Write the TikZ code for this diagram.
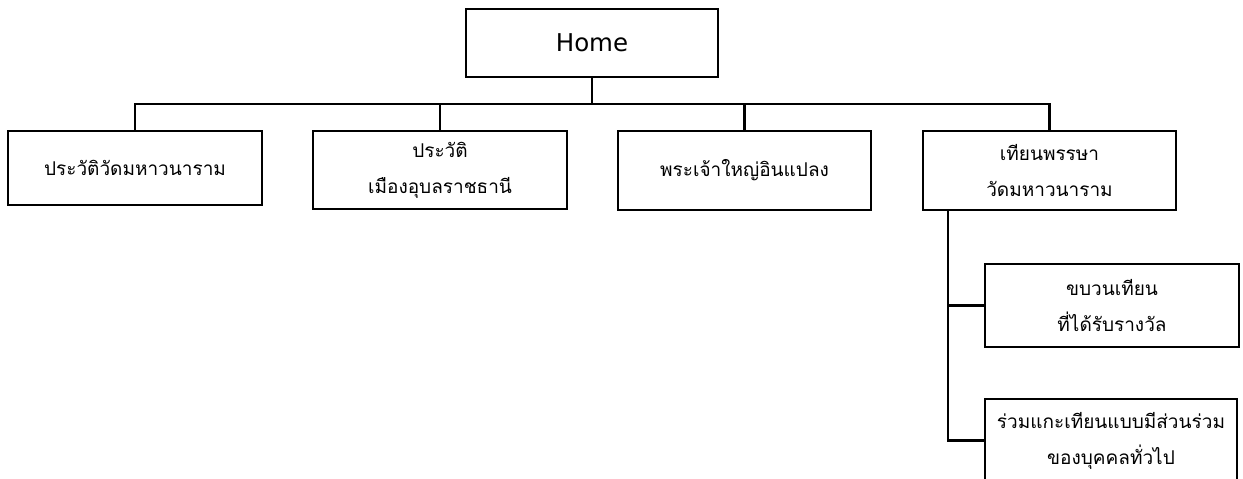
\documentclass[tikz,border=0pt]{standalone}
\usepackage{fontspec}
\newfontfamily\thaifont[Script=Thai]{Loma}
\newfontfamily\homefont{DejaVu Sans}
\begin{document}
\begin{tikzpicture}[x=1pt,y=-1pt,
  box/.style={draw=black, line width=2.8pt, fill=white, align=center, inner sep=0pt,
    font=\thaifont\fontsize{19}{36}\selectfont},
  conn/.style={draw=black, line width=2.8pt}]
\useasboundingbox (0,0) rectangle (1243,479);
\node[box, minimum width=252pt, minimum height=68pt, font=\homefont\fontsize{24.5}{28}\selectfont] (home) at (592,43) {Home};
\node[box, minimum width=254pt, minimum height=74pt] (b1) at (135,168) {ประวัติวัดมหาวนาราม};
\node[box, minimum width=254pt, minimum height=78pt] (b2) at (440,170) {ประวัติ\\เมืองอุบลราชธานี};
\node[box, minimum width=253pt, minimum height=79pt] (b3) at (744.5,170.5) {พระเจ้าใหญ่อินแปลง};
\node[box, minimum width=253pt, minimum height=79pt] (b4) at (1049.5,170.5) {เทียนพรรษา\\วัดมหาวนาราม};
\node[box, minimum width=254pt, minimum height=83pt] (b5) at (1112,305.5) {ขบวนเทียน\\ที่ได้รับรางวัล};
\node[box, minimum width=252pt, minimum height=83pt] (b6) at (1111,440.5) {ร่วมแกะเทียนแบบมีส่วนร่วม\\ของบุคคลทั่วไป};
\coordinate (bus) at (0,104);
\coordinate (spine) at (948,0);
\draw[conn] (home.south) -- (home.south |- bus);
\draw[conn] (b1.north) -- (b1.north |- bus) -- (b4.north |- bus) -- (b4.north);
\draw[conn] (b2.north) -- (b2.north |- bus);
\draw[conn] (b3.north) -- (b3.north |- bus);
\draw[conn] (b4.south -| spine) |- (b6.west);
\draw[conn] (spine |- b5.west) -- (b5.west);
\end{tikzpicture}
\end{document}
